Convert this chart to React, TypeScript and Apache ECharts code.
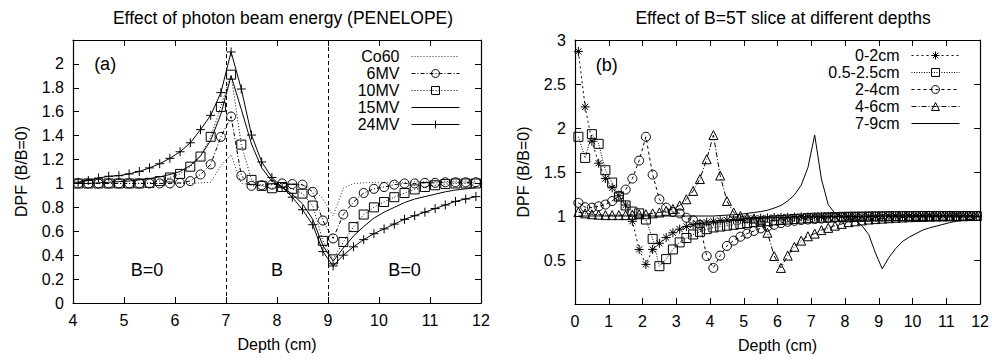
import React, { useEffect, useRef } from "react";
import * as echarts from "echarts";

const FONT = "'Liberation Sans', Arial, Helvetica, sans-serif";

// ---------- Panel (a) ----------
const titleA = "Effect of photon beam energy (PENELOPE)";
const depthA = [4.1, 4.3, 4.5, 4.7, 4.9, 5.1, 5.3, 5.5, 5.7, 5.9, 6.1, 6.3, 6.5, 6.7, 6.9, 7.1, 7.3, 7.5, 7.7, 7.9, 8.1, 8.3, 8.5, 8.7, 8.9, 9.1, 9.3, 9.5, 9.7, 9.9, 10.1, 10.3, 10.5, 10.7, 10.9, 11.1, 11.3, 11.5, 11.7, 11.9];
const co60 = [1.0, 1.0, 1.0, 1.0, 1.0, 1.0, 1.0, 1.0, 1.0, 1.0, 1.0, 1.0, 1.005, 1.01, 1.15, 1.24, 1.0, 0.99, 0.99, 0.995, 1.0, 0.995, 0.985, 0.96, 0.87, 0.73, 0.96, 1.0, 1.005, 1.01, 1.01, 1.01, 1.01, 1.015, 1.015, 1.015, 1.015, 1.02, 1.02, 1.02];
const mv6 = [1.0, 1.0, 1.0, 1.0, 1.0, 1.0, 1.0, 1.0, 1.0, 1.0, 1.005, 1.02, 1.075, 1.16, 1.39, 1.56, 1.065, 0.98, 0.985, 0.99, 1.0, 0.995, 0.99, 0.93, 0.69, 0.54, 0.74, 0.845, 0.92, 0.955, 0.97, 0.99, 1.0, 1.0, 1.005, 1.005, 1.01, 1.01, 1.01, 1.01];
const mv10 = [1.0, 1.0, 1.0, 1.0, 1.0, 1.0, 1.0, 1.005, 1.02, 1.05, 1.08, 1.14, 1.225, 1.39, 1.64, 1.91, 1.325, 1.03, 0.98, 0.96, 0.97, 0.955, 0.915, 0.815, 0.52, 0.365, 0.51, 0.635, 0.74, 0.8, 0.845, 0.885, 0.92, 0.95, 0.97, 0.985, 0.995, 1.0, 1.0, 1.0];
const mv15 = [1.0, 1.0, 1.005, 1.01, 1.015, 1.02, 1.03, 1.04, 1.055, 1.075, 1.1, 1.15, 1.23, 1.36, 1.58, 1.9, 1.62, 1.33, 1.13, 1.02, 0.97, 0.91, 0.83, 0.7, 0.48, 0.35, 0.46, 0.56, 0.64, 0.71, 0.76, 0.8, 0.84, 0.87, 0.89, 0.91, 0.93, 0.945, 0.955, 0.965];
const mv24 = [1.01, 1.025, 1.045, 1.06, 1.065, 1.08, 1.1, 1.13, 1.165, 1.21, 1.265, 1.34, 1.45, 1.57, 1.76, 2.1, 1.79, 1.405, 1.18, 1.05, 0.97, 0.885, 0.78, 0.655, 0.43, 0.31, 0.4, 0.47, 0.53, 0.58, 0.62, 0.66, 0.7, 0.73, 0.76, 0.79, 0.82, 0.85, 0.87, 0.89];
const boundariesA = [7, 9];

// ---------- Panel (b) ----------
const titleB = "Effect of B=5T slice at different depths";
const depthB = [0.1, 0.3, 0.5, 0.7, 0.9, 1.1, 1.3, 1.5, 1.7, 1.9, 2.1, 2.3, 2.5, 2.7, 2.9, 3.1, 3.3, 3.5, 3.7, 3.9, 4.1, 4.3, 4.5, 4.7, 4.9, 5.1, 5.3, 5.5, 5.7, 5.9, 6.1, 6.3, 6.5, 6.7, 6.9, 7.1, 7.3, 7.5, 7.7, 7.9, 8.1, 8.3, 8.5, 8.7, 8.9, 9.1, 9.3, 9.5, 9.7, 9.9, 10.1, 10.3, 10.5, 10.7, 10.9, 11.1, 11.3, 11.5, 11.7, 11.9];
const s0_2 = [2.87, 2.24, 1.85, 1.6, 1.425, 1.32, 1.23, 1.125, 0.94, 0.62, 0.45, 0.62, 0.69, 0.755, 0.81, 0.85, 0.88, 0.9, 0.915, 0.93, 0.94, 0.948, 0.955, 0.96, 0.965, 0.97, 0.973, 0.976, 0.979, 0.982, 0.984, 0.986, 0.988, 0.99, 0.991, 0.992, 0.993, 0.994, 0.995, 0.996, 0.997, 0.998, 0.998, 0.999, 0.999, 1.0, 1.0, 1.0, 1.0, 1.0, 1.0, 1.0, 1.0, 1.0, 1.0, 1.0, 1.0, 1.0, 1.0, 1.0];
const s05_25 = [1.9, 1.66, 1.93, 1.82, 1.52, 1.38, 1.22, 1.12, 1.05, 1.03, 0.96, 0.74, 0.43, 0.51, 0.62, 0.7, 0.75, 0.79, 0.82, 0.85, 0.87, 0.88, 0.89, 0.9, 0.91, 0.92, 0.93, 0.935, 0.94, 0.95, 0.955, 0.96, 0.965, 0.97, 0.975, 0.98, 0.982, 0.985, 0.987, 0.99, 0.991, 0.992, 0.993, 0.994, 0.995, 0.996, 0.997, 0.998, 0.998, 0.999, 0.999, 1.0, 1.0, 1.0, 1.0, 1.0, 1.0, 1.0, 1.0, 1.0];
const s2_4 = [1.15, 1.1, 1.095, 1.11, 1.13, 1.17, 1.23, 1.3, 1.425, 1.63, 1.9, 1.47, 1.19, 1.095, 1.045, 1.03, 0.98, 0.95, 0.9, 0.545, 0.41, 0.55, 0.66, 0.72, 0.765, 0.8, 0.83, 0.86, 0.88, 0.9, 0.92, 0.935, 0.945, 0.955, 0.96, 0.965, 0.97, 0.975, 0.98, 0.983, 0.986, 0.988, 0.99, 0.992, 0.994, 0.995, 0.996, 0.997, 0.998, 0.999, 1.0, 1.0, 1.0, 1.0, 1.0, 1.0, 1.0, 1.0, 1.0, 1.0];
const s4_6 = [1.045, 1.03, 1.02, 1.015, 1.01, 1.01, 1.01, 1.01, 1.015, 1.02, 1.02, 1.03, 1.04, 1.06, 1.08, 1.12, 1.19, 1.285, 1.42, 1.645, 1.92, 1.46, 1.17, 1.04, 1.0, 0.98, 0.97, 0.95, 0.81, 0.545, 0.41, 0.55, 0.65, 0.72, 0.77, 0.8, 0.84, 0.865, 0.89, 0.91, 0.93, 0.94, 0.95, 0.96, 0.965, 0.97, 0.975, 0.98, 0.983, 0.986, 0.988, 0.99, 0.992, 0.994, 0.995, 0.996, 0.997, 0.998, 0.999, 1.0];
const s7_9 = [1.0, 1.0, 1.0, 1.0, 1.0, 1.0, 1.0, 1.0, 1.0, 1.0, 1.0, 1.0, 1.0, 1.0, 1.0, 1.0, 1.0, 1.0, 1.0, 1.0, 1.0, 1.005, 1.01, 1.015, 1.02, 1.03, 1.04, 1.05, 1.065, 1.09, 1.12, 1.17, 1.24, 1.35, 1.55, 1.92, 1.42, 1.13, 1.03, 1.0, 0.98, 0.95, 0.89, 0.79, 0.58, 0.4, 0.53, 0.63, 0.71, 0.76, 0.8, 0.84, 0.865, 0.885, 0.905, 0.925, 0.94, 0.95, 0.96, 0.97];

const namesA = ["Co60", "6MV", "10MV", "15MV", "24MV"];
const namesB = ["0-2cm", "0.5-2.5cm", "2-4cm", "4-6cm", "7-9cm"];
const plainLines = ["Co60", "15MV", "7-9cm"];

const PLUS = "path://M5,0L5,10M0,5L10,5";
const STAR = "path://M5,0L5,10M0,5L10,5M1.6,1.6L8.4,8.4M1.6,8.4L8.4,1.6";

function pairs(xs: number[], ys: number[]) {
  return xs.map((x, i) => [x, ys[i]]);
}

function line(name: string, xs: number[], ys: number[], ax: number, o: any) {
  const lineColor = o.lineColor || "#000";
  return {
    type: "line",
    name,
    xAxisIndex: ax,
    yAxisIndex: ax,
    data: pairs(xs, ys),
    symbol: o.symbol || "none",
    symbolSize: o.symbolSize || 9,
    showSymbol: !!o.symbol,
    lineStyle: { color: lineColor, width: o.width || 1, type: o.dash || "solid" },
    itemStyle: { color: "rgba(0,0,0,0)", borderColor: "#000", borderWidth: 1 },
    emphasis: { disabled: true },
    z: o.z || 2,
    ...(o.extra || {}),
  };
}

const textLabel = (text: string, coord: number[]) => ({
  coord,
  value: text,
  label: { formatter: text },
});

function markText(items: any[]) {
  return {
    silent: true,
    symbol: "rect",
    symbolSize: 1,
    itemStyle: { color: "rgba(0,0,0,0)" },
    label: { show: true, position: "inside", color: "#000", fontSize: 18, fontFamily: FONT },
    data: items,
  };
}

function xAxes(grid: number, min: number, max: number) {
  const base = {
    gridIndex: grid,
    type: "value",
    min,
    max,
    interval: 1,
    splitLine: { show: false },
    axisLine: { show: true, onZero: false, lineStyle: { color: "#000", width: 1.2 } },
    axisTick: { show: true, inside: true, length: 6, lineStyle: { color: "#000", width: 1 } },
  };
  return [
    {
      ...base,
      position: "bottom",
      axisLabel: { color: "#000", fontSize: 16, fontFamily: FONT, margin: 9 },
      name: "Depth (cm)",
      nameLocation: "middle",
      nameGap: 33,
      nameTextStyle: { color: "#000", fontSize: 16, fontFamily: FONT },
    },
    { ...base, position: "top", axisLabel: { show: false } },
  ];
}

function yAxes(grid: number, min: number, max: number, interval: number, hide: number) {
  const base = {
    gridIndex: grid,
    type: "value",
    min,
    max,
    interval,
    splitLine: { show: false },
    axisLine: { show: true, onZero: false, lineStyle: { color: "#000", width: 1.2 } },
    axisTick: { show: true, inside: true, length: 6, lineStyle: { color: "#000", width: 1 } },
  };
  return [
    {
      ...base,
      position: "left",
      axisLabel: {
        color: "#000",
        fontSize: 16,
        fontFamily: FONT,
        margin: 9,
        formatter: (v: number) => (Math.abs(v - hide) < 1e-6 ? "" : String(Math.round(v * 10) / 10)),
      },
      name: "DPF (B/B=0)",
      nameLocation: "middle",
      nameGap: 44,
      nameTextStyle: { color: "#000", fontSize: 16, fontFamily: FONT },
    },
    { ...base, position: "right", axisLabel: { show: false } },
  ];
}

function legendData(names: string[]) {
  return names.map((n) =>
    plainLines.includes(n)
      ? { name: n, itemStyle: { color: "rgba(0,0,0,0)", borderColor: "rgba(0,0,0,0)", borderWidth: 0 } }
      : { name: n }
  );
}

const legendBase = {
  orient: "vertical",
  align: "right",
  padding: 0,
  itemGap: 0,
  itemWidth: 48,
  itemHeight: 10,
  selectedMode: false,
  itemStyle: { color: "rgba(0,0,0,0)", borderColor: "#000", borderWidth: 1 },
  lineStyle: { width: 1 },
  textStyle: { color: "#000", fontSize: 16, fontFamily: FONT, lineHeight: 17, padding: [0, 7, 0, 0] },
};

const option: any = {
  animation: false,
  backgroundColor: "#fff",
  title: [
    { text: titleA, left: 278, top: 4, textAlign: "center", textStyle: { fontSize: 17.5, fontWeight: "normal", color: "#000", fontFamily: FONT } },
    { text: titleB, left: 778, top: 4, textAlign: "center", textStyle: { fontSize: 17.5, fontWeight: "normal", color: "#000", fontFamily: FONT } },
  ],
  legend: [
    { ...legendBase, data: legendData(namesA), right: 532, top: 48 },
    { ...legendBase, data: legendData(namesB), right: 32, top: 47 },
  ],
  grid: [
    { left: 73, right: 511, top: 40, bottom: 57 },
    { left: 575, right: 10, top: 40, bottom: 56 },
  ],
  xAxis: [...xAxes(0, 4, 12), ...xAxes(1, 0, 12)],
  yAxis: [...yAxes(0, 0, 2.2, 0.2, 2.2), ...yAxes(1, 0, 3, 0.5, 0)],
  series: [
    line(namesA[0], depthA, co60, 0, {
      dash: [1, 2],
      lineColor: "#333",
      extra: {
        markLine: {
          silent: true,
          symbol: ["none", "none"],
          label: { show: false },
          lineStyle: { color: "#000", type: [4, 3], width: 1 },
          data: boundariesA.map((b) => ({ xAxis: b })),
        },
      },
    }),
    line(namesA[1], depthA, mv6, 0, { symbol: "circle", dash: [4, 2, 1, 2] }),
    line(namesA[2], depthA, mv10, 0, { symbol: "rect", dash: [1, 2] }),
    line(namesA[3], depthA, mv15, 0, {
      extra: {
        markPoint: markText([
          textLabel("(a)", [4.63, 2.0]),
          textLabel("B=0", [5.45, 0.28]),
          textLabel("B", [8.0, 0.28]),
          textLabel("B=0", [10.5, 0.28]),
        ]),
      },
    }),
    line(namesA[4], depthA, mv24, 0, { symbol: PLUS }),

    line(namesB[0], depthB, s0_2, 2, {
      symbol: STAR,
      dash: [2, 3],
      extra: { markPoint: markText([textLabel("(b)", [0.94, 2.72])]) },
    }),
    line(namesB[1], depthB, s05_25, 2, { symbol: "rect", dash: [1, 1.5] }),
    line(namesB[2], depthB, s2_4, 2, { symbol: "circle", dash: [3, 3] }),
    line(namesB[3], depthB, s4_6, 2, { symbol: "triangle", dash: [5, 2, 1, 2] }),
    line(namesB[4], depthB, s7_9, 2, {}),
  ],
};

export default function App() {
  const ref = useRef<HTMLDivElement>(null);
  useEffect(() => {
    const chart = echarts.init(ref.current!, null, { renderer: "svg" });
    chart.setOption(option);
    return () => chart.dispose();
  }, []);
  return <div ref={ref} style={{ position: "fixed", left: 0, top: 0, width: 992, height: 360 }} />;
}
